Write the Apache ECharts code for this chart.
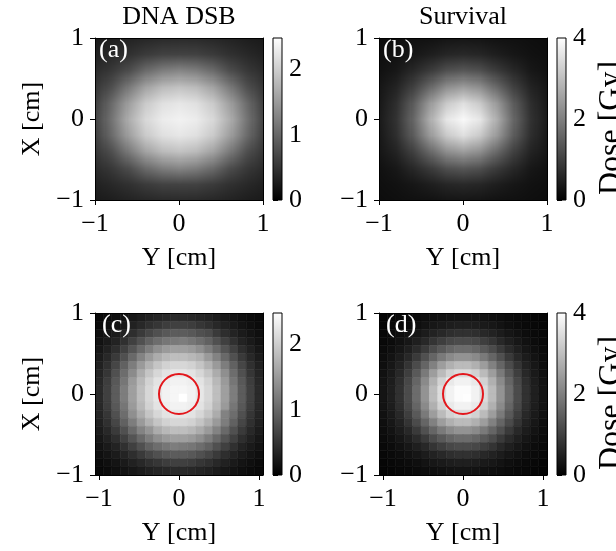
<!DOCTYPE html>
<html><head><meta charset="utf-8">
<script src="https://cdn.jsdelivr.net/npm/echarts@6/dist/echarts.min.js"></script>
<style>html,body{margin:0;padding:0;background:#fff}#c{width:616px;height:551px}</style>
</head><body><div id="c"></div>
<script>
// ---------------- data ----------------
const panelTitles = ['DNA DSB', 'Survival'];
const panelLetters = ['(a)', '(b)', '(c)', '(d)'];
const colorbarLabel = 'Dose [Gy]';
const axisTickValues = [-1, 0, 1];
const dsbColorbarTicks = [0, 1, 2];
const survColorbarTicks = [0, 2, 4];
const dsbMax = 2.48;
const survMax = 4;
const circleCenter = [0, 0];
const circleRadius = 0.25;

// smooth maps (top row): columns = Y [cm] (horizontal), rows = X [cm] (vertical, top to bottom)
const smoothYCoords = [-1, -0.8, -0.6, -0.4, -0.2, 0, 0.2, 0.4, 0.6, 0.8, 1];
const smoothXCoords = [1, 0.8, 0.6, 0.4, 0.2, 0, -0.2, -0.4, -0.6, -0.8, -1];
const dsbSmooth = [
  [0.25,0.29,0.34,0.38,0.41,0.42,0.41,0.38,0.34,0.29,0.25],
  [0.32,0.40,0.48,0.57,0.64,0.65,0.64,0.57,0.48,0.40,0.32],
  [0.42,0.55,0.75,1.03,1.22,1.29,1.22,1.03,0.75,0.55,0.42],
  [0.53,0.79,1.20,1.59,1.82,1.90,1.82,1.59,1.20,0.79,0.53],
  [0.61,1.06,1.56,1.96,2.18,2.25,2.18,1.96,1.56,1.06,0.61],
  [0.65,1.15,1.70,2.10,2.30,2.35,2.30,2.10,1.70,1.15,0.65],
  [0.61,1.06,1.56,1.96,2.18,2.25,2.18,1.96,1.56,1.06,0.61],
  [0.53,0.79,1.20,1.59,1.82,1.90,1.82,1.59,1.20,0.79,0.53],
  [0.42,0.55,0.75,1.03,1.22,1.29,1.22,1.03,0.75,0.55,0.42],
  [0.32,0.40,0.48,0.57,0.64,0.65,0.64,0.57,0.48,0.40,0.32],
  [0.25,0.29,0.34,0.38,0.41,0.42,0.41,0.38,0.34,0.29,0.25]
];
const survSmooth = [
  [0.21,0.23,0.26,0.29,0.33,0.34,0.33,0.29,0.26,0.23,0.21],
  [0.24,0.28,0.36,0.47,0.60,0.64,0.60,0.47,0.36,0.28,0.24],
  [0.27,0.38,0.62,0.91,1.24,1.36,1.24,0.91,0.62,0.38,0.27],
  [0.34,0.57,1.02,1.63,2.24,2.48,2.24,1.63,1.02,0.57,0.34],
  [0.38,0.74,1.44,2.39,3.16,3.51,3.16,2.39,1.44,0.74,0.38],
  [0.40,0.80,1.60,2.70,3.60,3.90,3.60,2.70,1.60,0.80,0.40],
  [0.38,0.74,1.44,2.39,3.16,3.51,3.16,2.39,1.44,0.74,0.38],
  [0.34,0.57,1.02,1.63,2.24,2.48,2.24,1.63,1.02,0.57,0.34],
  [0.27,0.38,0.62,0.91,1.24,1.36,1.24,0.91,0.62,0.38,0.27],
  [0.24,0.28,0.36,0.47,0.60,0.64,0.60,0.47,0.36,0.28,0.24],
  [0.21,0.23,0.26,0.29,0.33,0.34,0.33,0.29,0.26,0.23,0.21]
];

// pixelated maps (bottom row): cell centres
const pixelYCenters = [-0.9975,-0.8925,-0.7875,-0.6825,-0.5775,-0.4725,-0.3675,-0.2625,-0.1575,-0.0525,
                        0.0525,0.1575,0.2625,0.3675,0.4725,0.5775,0.6825,0.7875,0.8925,0.9975];
const pixelXCenters = [0.95,0.85,0.75,0.65,0.55,0.45,0.35,0.25,0.15,0.05,
                       -0.05,-0.15,-0.25,-0.35,-0.45,-0.55,-0.65,-0.75,-0.85,-0.95];
const dsbPixel = [
  [0.09,0.11,0.15,0.18,0.22,0.27,0.32,0.36,0.39,0.41,0.41,0.39,0.36,0.32,0.27,0.22,0.18,0.15,0.11,0.09],
  [0.11,0.15,0.19,0.25,0.32,0.39,0.47,0.53,0.59,0.62,0.62,0.59,0.53,0.47,0.39,0.32,0.25,0.19,0.15,0.11],
  [0.15,0.19,0.26,0.34,0.45,0.56,0.68,0.78,0.86,0.89,0.89,0.86,0.78,0.72,0.56,0.45,0.34,0.26,0.19,0.15],
  [0.18,0.25,0.34,0.47,0.62,0.78,0.94,1.06,1.15,1.18,1.22,1.15,1.06,0.94,0.78,0.62,0.47,0.34,0.25,0.18],
  [0.22,0.32,0.45,0.62,0.82,1.02,1.22,1.39,1.50,1.55,1.55,1.50,1.39,1.22,1.02,0.82,0.62,0.45,0.32,0.22],
  [0.27,0.39,0.56,0.78,1.02,1.27,1.50,1.67,1.79,1.85,1.85,1.79,1.71,1.50,1.27,1.02,0.78,0.56,0.39,0.27],
  [0.32,0.47,0.68,0.94,1.22,1.50,1.73,1.92,2.04,2.09,2.09,2.04,1.92,1.73,1.50,1.22,0.94,0.68,0.47,0.32],
  [0.36,0.53,0.78,1.06,1.35,1.67,1.92,2.09,2.21,2.25,2.25,2.21,2.09,1.92,1.67,1.39,1.06,0.78,0.53,0.36],
  [0.39,0.59,0.86,1.15,1.50,1.79,2.04,2.21,2.31,2.35,2.35,2.31,2.21,2.04,1.79,1.50,1.15,0.86,0.59,0.39],
  [0.41,0.62,0.89,1.22,1.55,1.85,2.09,2.25,2.35,2.39,2.39,2.35,2.25,2.09,1.85,1.55,1.22,0.89,0.62,0.41],
  [0.41,0.62,0.89,1.22,1.55,1.85,2.09,2.25,2.35,2.39,2.48,2.35,2.25,2.09,1.85,1.55,1.22,0.89,0.62,0.41],
  [0.39,0.59,0.86,1.15,1.50,1.79,2.04,2.21,2.31,2.35,2.35,2.31,2.21,2.04,1.79,1.50,1.15,0.86,0.59,0.39],
  [0.36,0.53,0.78,1.06,1.39,1.67,1.92,2.09,2.21,2.25,2.25,2.21,2.09,1.92,1.67,1.26,1.06,0.78,0.53,0.36],
  [0.32,0.47,0.68,0.94,1.22,1.50,1.73,1.92,2.04,2.09,2.09,2.04,1.92,1.73,1.50,1.22,0.94,0.68,0.47,0.32],
  [0.27,0.39,0.56,0.78,1.02,1.27,1.45,1.67,1.79,1.85,1.85,1.79,1.67,1.50,1.27,1.02,0.78,0.56,0.39,0.27],
  [0.22,0.32,0.45,0.62,0.82,1.02,1.22,1.39,1.50,1.55,1.55,1.50,1.39,1.22,1.02,0.82,0.62,0.45,0.32,0.22],
  [0.18,0.25,0.34,0.47,0.62,0.78,0.94,1.06,1.15,1.22,1.19,1.15,1.06,0.94,0.78,0.62,0.47,0.34,0.25,0.18],
  [0.15,0.19,0.26,0.34,0.45,0.56,0.68,0.78,0.86,0.89,0.89,0.86,0.78,0.68,0.56,0.45,0.34,0.26,0.19,0.15],
  [0.11,0.15,0.19,0.25,0.32,0.39,0.47,0.53,0.59,0.62,0.62,0.59,0.53,0.47,0.39,0.32,0.25,0.19,0.15,0.11],
  [0.09,0.11,0.15,0.18,0.22,0.27,0.32,0.36,0.39,0.41,0.41,0.39,0.36,0.32,0.27,0.22,0.18,0.15,0.11,0.09]
];
const survPixel = [
  [0.08,0.10,0.12,0.14,0.17,0.21,0.24,0.27,0.30,0.31,0.31,0.30,0.27,0.24,0.21,0.17,0.14,0.12,0.10,0.08],
  [0.10,0.12,0.15,0.19,0.24,0.30,0.36,0.41,0.46,0.49,0.49,0.46,0.41,0.36,0.30,0.24,0.19,0.15,0.12,0.10],
  [0.12,0.15,0.20,0.26,0.34,0.44,0.54,0.63,0.72,0.77,0.77,0.72,0.63,0.54,0.44,0.34,0.26,0.20,0.15,0.12],
  [0.14,0.19,0.26,0.36,0.49,0.63,0.82,0.97,1.11,1.18,1.18,1.11,0.97,0.82,0.63,0.49,0.36,0.26,0.19,0.14],
  [0.17,0.24,0.34,0.49,0.68,0.91,1.18,1.40,1.59,1.70,1.70,1.59,1.40,1.18,0.91,0.68,0.49,0.34,0.24,0.17],
  [0.21,0.30,0.44,0.63,0.91,1.25,1.59,1.91,2.17,2.31,2.31,2.17,1.91,1.59,1.25,0.91,0.63,0.44,0.30,0.21],
  [0.24,0.36,0.54,0.82,1.18,1.59,2.03,2.46,2.76,2.93,2.93,2.76,2.46,2.03,1.59,1.18,0.82,0.54,0.36,0.24],
  [0.27,0.41,0.63,0.97,1.40,1.91,2.46,2.93,3.29,3.45,3.45,3.29,2.93,2.46,1.91,1.40,0.97,0.63,0.41,0.27],
  [0.30,0.46,0.72,1.11,1.59,2.17,2.76,3.29,3.65,3.80,3.80,3.65,3.29,2.76,2.17,1.59,1.11,0.72,0.46,0.30],
  [0.31,0.49,0.77,1.18,1.70,2.31,2.93,3.45,3.80,3.96,3.96,3.80,3.45,2.93,2.31,1.70,1.18,0.77,0.49,0.31],
  [0.31,0.49,0.77,1.18,1.70,2.31,2.93,3.45,3.80,3.96,3.98,3.80,3.45,2.93,2.31,1.70,1.18,0.77,0.49,0.31],
  [0.30,0.46,0.72,1.11,1.59,2.17,2.76,3.29,3.65,3.80,3.80,3.65,3.29,2.76,2.17,1.59,1.11,0.72,0.46,0.30],
  [0.27,0.41,0.63,0.97,1.40,1.91,2.46,2.93,3.29,3.45,3.45,3.29,2.93,2.46,1.91,1.40,0.97,0.63,0.41,0.27],
  [0.24,0.36,0.54,0.82,1.18,1.59,2.03,2.46,2.76,2.93,2.93,2.76,2.46,2.03,1.59,1.18,0.82,0.54,0.36,0.24],
  [0.21,0.30,0.44,0.63,0.91,1.25,1.59,1.91,2.17,2.31,2.31,2.17,1.91,1.59,1.25,0.91,0.63,0.44,0.30,0.21],
  [0.17,0.24,0.34,0.49,0.68,0.91,1.18,1.40,1.59,1.70,1.70,1.59,1.40,1.18,0.91,0.68,0.49,0.34,0.24,0.17],
  [0.14,0.19,0.26,0.36,0.49,0.63,0.82,0.97,1.11,1.18,1.18,1.11,0.97,0.82,0.63,0.49,0.36,0.26,0.19,0.14],
  [0.12,0.15,0.20,0.26,0.34,0.44,0.54,0.63,0.72,0.77,0.77,0.72,0.63,0.54,0.44,0.34,0.26,0.20,0.15,0.12],
  [0.10,0.12,0.15,0.19,0.24,0.30,0.36,0.41,0.46,0.49,0.49,0.46,0.41,0.36,0.30,0.24,0.19,0.15,0.12,0.10],
  [0.08,0.10,0.12,0.14,0.17,0.21,0.24,0.27,0.30,0.31,0.31,0.30,0.27,0.24,0.21,0.17,0.14,0.12,0.10,0.08]
];

// ---------------- layout / style ----------------
const FONT = "'Liberation Serif','Times New Roman',serif";
const FS = 26;
const plotW = 168, plotH = 162, cbGap = 10, cbW = 9;
const plotPos = [[95, 38], [379, 38], [95, 313], [379, 313]];
const letterPos = [[99, 37], [383, 37], [102, 312], [386, 312]];
const titleX = [179, 463], titleY = 4;
const cbLabelPos = [[596, 128], [596, 403]];

const chart = echarts.init(document.getElementById('c'), null, {renderer: 'canvas'});
const fmt = v => (v < 0 ? '\u2212' + (-v) : String(v));
const txt = {fontSize: FS, fontFamily: FONT, color: '#000'};

function makeImage(grid, max) {
  const rows = grid.length, cols = grid[0].length;
  const cv = document.createElement('canvas');
  cv.width = cols; cv.height = rows;
  const ctx = cv.getContext('2d');
  const img = ctx.createImageData(cols, rows);
  for (let r = 0; r < rows; r++) for (let c = 0; c < cols; c++) {
    const g = Math.round(255 * Math.max(0, Math.min(1, grid[r][c] / max)));
    const k = 4 * (r * cols + c);
    img.data[k] = g; img.data[k + 1] = g; img.data[k + 2] = g; img.data[k + 3] = 255;
  }
  ctx.putImageData(img, 0, 0);
  return cv;
}

const grids = [], xAxes = [], yAxes = [], series = [], visualMaps = [];
const sStep = smoothYCoords[1] - smoothYCoords[0];
const pdY = pixelYCenters[1] - pixelYCenters[0];
const pdX = pixelXCenters[0] - pixelXCenters[1];
const pixXRange = [pixelYCenters[0] - pdY / 2, pixelYCenters[pixelYCenters.length - 1] + pdY / 2];

for (let p = 0; p < 4; p++) {
  const [left, top] = plotPos[p];
  const isPixel = p >= 2;
  const isSurv = p % 2 === 1;
  const max = isSurv ? survMax : dsbMax;
  const cbTicks = isSurv ? survColorbarTicks : dsbColorbarTicks;
  const gi = grids.length;
  grids.push({left, top, width: plotW, height: plotH, containLabel: false, outerBoundsMode: 'none'});
  grids.push({left: left + plotW + cbGap, top, width: cbW, height: plotH, containLabel: false, outerBoundsMode: 'none'});
  const xr = isPixel ? pixXRange : [-1, 1];
  const xi = xAxes.length, yi = yAxes.length;
  const lineStyle = {color: '#000', width: 1};
  xAxes.push({gridIndex: gi, type: 'value', min: xr[0], max: xr[1], position: 'bottom', z: 10,
    axisLine: {show: true, onZero: false, lineStyle},
    axisTick: {show: true, length: 5, lineStyle, customValues: axisTickValues},
    axisLabel: {show: true, customValues: axisTickValues, formatter: fmt, margin: 11, ...txt},
    splitLine: {show: false},
    name: 'Y [cm]', nameLocation: 'middle', nameGap: 45, nameTextStyle: txt});
  xAxes.push({gridIndex: gi, type: 'value', min: xr[0], max: xr[1], position: 'top', z: 10,
    axisLine: {show: true, onZero: false, lineStyle}, axisTick: {show: false},
    axisLabel: {show: false}, splitLine: {show: false}});
  const yLeft = {gridIndex: gi, type: 'value', min: -1, max: 1, position: 'left', z: 10,
    axisLine: {show: true, onZero: false, lineStyle},
    axisTick: {show: true, length: 5, lineStyle, customValues: axisTickValues},
    axisLabel: {show: true, customValues: axisTickValues, formatter: fmt, margin: 11, ...txt},
    splitLine: {show: false}};
  if (!isSurv) Object.assign(yLeft, {name: 'X [cm]', nameLocation: 'middle', nameGap: 50,
    nameRotate: 90, nameTextStyle: txt});
  yAxes.push(yLeft);
  yAxes.push({gridIndex: gi, type: 'value', min: -1, max: 1, position: 'right', z: 10,
    axisLine: {show: true, onZero: false, lineStyle}, axisTick: {show: false},
    axisLabel: {show: false}, splitLine: {show: false}});
  // colourbar axes
  const cxi = xAxes.length, cyi = yAxes.length;
  xAxes.push({gridIndex: gi + 1, type: 'value', min: 0, max: 1, show: false});
  yAxes.push({gridIndex: gi + 1, type: 'value', min: 0, max: max, position: 'right',
    axisLine: {show: false},
    axisTick: {show: true, length: 5, lineStyle, customValues: cbTicks},
    axisLabel: {show: true, customValues: cbTicks, margin: 7, ...txt},
    splitLine: {show: false}});

  if (!isPixel) {
    const grid = isSurv ? survSmooth : dsbSmooth;
    const cv = makeImage(grid, max);
    const ext = [smoothYCoords[0] - sStep / 2, smoothXCoords[0] + sStep / 2,
                 smoothYCoords[smoothYCoords.length - 1] + sStep / 2,
                 smoothXCoords[smoothXCoords.length - 1] - sStep / 2];
    series.push({type: 'custom', xAxisIndex: xi, yAxisIndex: yi, clip: true, silent: true,
      data: [[0, 0]],
      renderItem: (params, api) => {
        const a = api.coord([ext[0], ext[1]]), b = api.coord([ext[2], ext[3]]);
        return {type: 'image', style: {image: cv, x: a[0], y: a[1], width: b[0] - a[0], height: b[1] - a[1]}};
      }});
  } else {
    const grid = isSurv ? survPixel : dsbPixel;
    const data = [];
    for (let r = 0; r < pixelXCenters.length; r++)
      for (let c = 0; c < pixelYCenters.length; c++)
        data.push([pixelYCenters[c], pixelXCenters[r], grid[r][c]]);
    visualMaps.push({show: false, type: 'continuous', seriesIndex: series.length, dimension: 2,
      min: 0, max: max, inRange: {color: ['#000000', '#ffffff']}});
    series.push({type: 'custom', xAxisIndex: xi, yAxisIndex: yi, clip: true, silent: true,
      encode: {x: 0, y: 1}, data,
      renderItem: (params, api) => {
        const cx = api.value(0), cy = api.value(1);
        const a = api.coord([cx - pdY / 2, cy + pdX / 2]), b = api.coord([cx + pdY / 2, cy - pdX / 2]);
        const col = api.visual('color');
        return {type: 'rect', shape: {x: a[0], y: a[1], width: b[0] - a[0], height: b[1] - a[1]},
          style: {fill: col, stroke: col, lineWidth: 0.6}};
      }});
    series.push({type: 'custom', xAxisIndex: xi, yAxisIndex: yi, clip: true, silent: true, z: 5,
      data: [[circleCenter[0], circleCenter[1], circleRadius]],
      renderItem: (params, api) => {
        const c = api.coord([api.value(0), api.value(1)]);
        const r = api.size([api.value(2), 0])[0];
        return {type: 'circle', shape: {cx: c[0], cy: c[1], r},
          style: {fill: null, stroke: '#e3171c', lineWidth: 2}};
      }});
  }
  // colourbar
  series.push({type: 'custom', xAxisIndex: cxi, yAxisIndex: cyi, silent: true,
    data: [[0, max]],
    renderItem: (params, api) => {
      const a = api.coord([0, api.value(1)]), b = api.coord([1, 0]);
      return {type: 'rect', shape: {x: a[0], y: a[1], width: b[0] - a[0], height: b[1] - a[1]},
        style: {fill: new echarts.graphic.LinearGradient(0, 0, 0, 1,
          [{offset: 0, color: '#ffffff'}, {offset: 1, color: '#000000'}]), stroke: '#000', lineWidth: 1}};
    }});
}

const graphic = [];
panelTitles.forEach((t, i) => graphic.push({type: 'text', x: titleX[i], y: titleY, z: 100,
  style: {text: t, fill: '#000', font: FS + 'px ' + FONT, textAlign: 'center', textVerticalAlign: 'top'}}));
panelLetters.forEach((t, i) => graphic.push({type: 'text', x: letterPos[i][0], y: letterPos[i][1], z: 100,
  style: {text: t, fill: '#fff', font: FS + 'px ' + FONT, textAlign: 'left', textVerticalAlign: 'top'}}));
cbLabelPos.forEach(([x, y]) => graphic.push({type: 'text', x, y, rotation: Math.PI / 2, z: 100,
  style: {text: colorbarLabel, fill: '#000', font: '32px ' + FONT, textAlign: 'center', textVerticalAlign: 'top'}}));

chart.setOption({
  animation: false,
  backgroundColor: '#fff',
  grid: grids, xAxis: xAxes, yAxis: yAxes,
  visualMap: visualMaps, series, graphic
});
</script></body></html>
